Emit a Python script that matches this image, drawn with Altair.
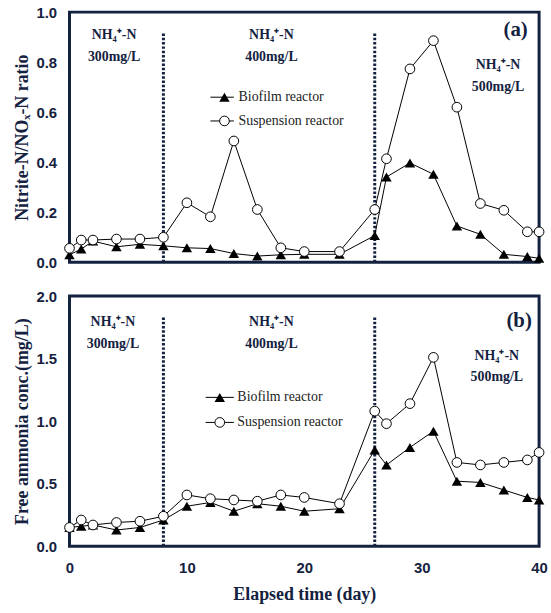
import altair as alt
import pandas as pd

NAVY = "#14223f"

days = [0, 1, 2, 4, 6, 8, 10, 12, 14, 16, 18, 20, 23, 26, 27, 29, 31, 33, 35, 37, 39, 40]
ratio_biofilm = [0.030, 0.053, 0.085, 0.062, 0.072, 0.066, 0.058, 0.055, 0.035, 0.025, 0.030,
                 0.032, 0.032, 0.107, 0.341, 0.397, 0.352, 0.145, 0.112, 0.032, 0.023, 0.016]
ratio_suspension = [0.056, 0.089, 0.089, 0.093, 0.093, 0.100, 0.238, 0.182, 0.485, 0.211, 0.058,
                    0.043, 0.043, 0.211, 0.414, 0.773, 0.886, 0.620, 0.235, 0.208, 0.122, 0.122]
fa_biofilm = [0.15, 0.16, 0.17, 0.13, 0.15, 0.21, 0.32, 0.35, 0.28, 0.34, 0.32,
              0.28, 0.30, 0.77, 0.65, 0.79, 0.92, 0.52, 0.51, 0.45, 0.39, 0.37]
fa_suspension = [0.15, 0.21, 0.17, 0.19, 0.20, 0.24, 0.41, 0.38, 0.37, 0.36, 0.41,
                 0.39, 0.34, 1.08, 0.98, 1.14, 1.51, 0.67, 0.65, 0.67, 0.69, 0.75]

series_names = ["Biofilm reactor", "Suspension reactor"]
phase_days = [8, 26]
phase_labels = ["NH\u2084\u207a-N", "300mg/L", "NH\u2084\u207a-N", "400mg/L", "NH\u2084\u207a-N", "500mg/L"]
x_ticks = [0, 10, 20, 30, 40]

SERIF = "Liberation Serif, Times New Roman, serif"


def panel(biofilm, suspension, ymax, yvals, ytitle, tag, tag_pos, ann_pos, leg_pos, dot_top, show_x):
    n = len(days)
    df = pd.DataFrame({
        "day": days * 2,
        "value": biofilm + suspension,
        "series": [series_names[0]] * n + [series_names[1]] * n,
    })

    def X(field):
        if show_x:
            ax = alt.Axis(values=x_ticks, labelFlush=False, labelPadding=14, titlePadding=11,
                          titleFontSize=18)
            return alt.X(f"{field}:Q", scale=alt.Scale(domain=[0, 40], nice=False, zero=False),
                         axis=ax, title="Elapsed time (day)")
        return alt.X(f"{field}:Q", scale=alt.Scale(domain=[0, 40], nice=False, zero=False), axis=None)

    def Y(field):
        return alt.Y(f"{field}:Q", scale=alt.Scale(domain=[0, ymax], nice=False, zero=True),
                     axis=alt.Axis(values=yvals, format=".1f", labelPadding=13, titlePadding=4,
                                   titleFontSize=18),
                     title=ytitle)

    base = alt.Chart(df)
    lines = base.mark_line(color="black", strokeWidth=1).encode(
        x=X("day"), y=Y("value"), detail="series:N")
    tri = base.transform_filter(alt.datum.series == series_names[0]).mark_point(
        shape="triangle-up", filled=True, color="black", size=110, opacity=1).encode(
        x=X("day"), y=Y("value"))
    circ = base.transform_filter(alt.datum.series == series_names[1]).mark_point(
        shape="circle", fill="white", stroke="black", strokeWidth=1, size=95, opacity=1).encode(
        x=X("day"), y=Y("value"))

    dot_df = pd.DataFrame({"day": phase_days, "y0": [0, 0], "y1": [dot_top, dot_top]})
    dots = alt.Chart(dot_df).mark_rule(color=NAVY, strokeWidth=3, strokeDash=[2.5, 1.8]).encode(
        x=X("day"), y=Y("y0"), y2="y1")

    ann_df = pd.DataFrame({"day": [p[0] for p in ann_pos], "value": [p[1] for p in ann_pos],
                           "text": phase_labels})
    ann = alt.Chart(ann_df).mark_text(font=SERIF, fontWeight="bold", fontSize=14,
                                      color=NAVY).encode(x=X("day"), y=Y("value"), text="text:N")

    tag_df = pd.DataFrame({"day": [tag_pos[0]], "value": [tag_pos[1]], "text": [tag]})
    tagm = alt.Chart(tag_df).mark_text(font=SERIF, fontWeight="bold", fontSize=21,
                                       color=NAVY).encode(x=X("day"), y=Y("value"), text="text:N")

    lx0, lx1, lsym, ltxt, ly = leg_pos
    leg_df = pd.DataFrame({"x0": [lx0, lx0], "x1": [lx1, lx1], "sym": [lsym, lsym],
                           "tx": [ltxt, ltxt], "value": ly, "series": series_names})
    leg_lines = alt.Chart(leg_df).mark_rule(color="black", strokeWidth=1).encode(
        x=X("x0"), x2="x1", y=Y("value"))
    leg_tri = alt.Chart(leg_df).transform_filter(alt.datum.series == series_names[0]).mark_point(
        shape="triangle-up", filled=True, color="black", size=110, opacity=1).encode(
        x=X("sym"), y=Y("value"))
    leg_circ = alt.Chart(leg_df).transform_filter(alt.datum.series == series_names[1]).mark_point(
        shape="circle", fill="white", stroke="black", strokeWidth=1, size=95, opacity=1).encode(
        x=X("sym"), y=Y("value"))
    leg_txt = alt.Chart(leg_df).mark_text(font=SERIF, fontSize=14, align="left",
                                          color="#222222").encode(
        x=X("tx"), y=Y("value"), text="series:N")

    return alt.layer(dots, lines, tri, circ, ann, tagm, leg_lines, leg_tri, leg_circ, leg_txt).properties(
        width=473, height=252)


top = panel(ratio_biofilm, ratio_suspension, 1.0, [0, 0.2, 0.4, 0.6, 0.8, 1.0],
            "Nitrite-N/NO\u2093-N ratio", "(a)", (38.0, 0.93),
            [(3.8, 0.91), (3.8, 0.82), (17.2, 0.91), (17.2, 0.82), (36.5, 0.79), (36.5, 0.70)],
            (12.0, 14.0, 13.2, 14.4, [0.66, 0.565]), 0.92, False)

bottom = panel(fa_biofilm, fa_suspension, 2.0, [0, 0.5, 1.0, 1.5, 2.0],
               "Free ammonia conc.(mg/L)", "(b)", (38.3, 1.80),
               [(3.7, 1.79), (3.7, 1.62), (17.2, 1.79), (17.2, 1.62), (36.4, 1.52), (36.4, 1.35)],
               (11.6, 14.0, 12.8, 14.3, [1.19, 0.99]), 1.84, True)

chart = alt.vconcat(top, bottom, spacing=15).properties(
    padding={"left": 12, "top": 1, "right": 2, "bottom": 2}
).configure_view(
    stroke=NAVY, strokeWidth=3
).configure_axis(
    labelFont="Liberation Sans", labelFontWeight="bold", labelFontSize=15, labelColor=NAVY,
    titleFont=SERIF, titleFontWeight="bold", titleFontSize=17, titleColor=NAVY,
    ticks=False, grid=False, domain=False
)

chart.save("out.html", embed_options={"renderer": "svg", "actions": False})
